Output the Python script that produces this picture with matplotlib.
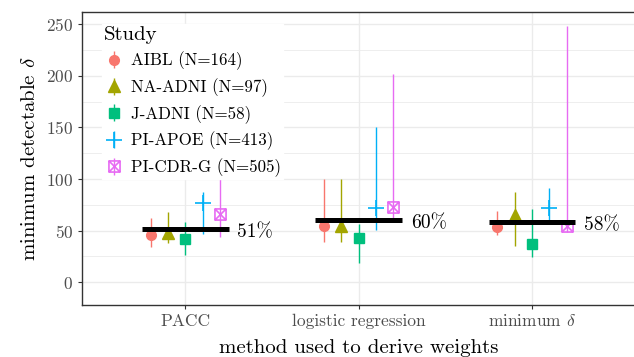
import matplotlib
matplotlib.use('Agg')
import matplotlib.pyplot as plt
from matplotlib.path import Path
from matplotlib.ticker import MultipleLocator

plt.rcParams['font.family'] = 'serif'
plt.rcParams['font.serif'] = ['cmr10', 'DejaVu Serif']
plt.rcParams['mathtext.fontset'] = 'cm'
plt.rcParams['axes.formatter.use_mathtext'] = True

# data
methods = ['PACC', 'logistic regression', r'minimum $\delta$']
studies = ['AIBL (N=164)', 'NA-ADNI (N=97)', 'J-ADNI (N=58)', 'PI-APOE (N=413)', 'PI-CDR-G (N=505)']

est = [
    [45.8, 54.6, 53.3],   # AIBL
    [48.0, 54.6, 65.2],   # NA-ADNI
    [41.7, 42.6, 36.8],   # J-ADNI
    [77.1, 72.3, 72.3],   # PI-APOE
    [66.2, 73.3, 54.6],   # PI-CDR-G
]
lower = [
    [34.5, 39.3, 45.8],
    [37.8, 39.3, 35.2],
    [26.5, 18.4, 24.2],
    [46.8, 50.7, 60.4],
    [44.2, 62.3, 49.0],
]
upper = [
    [62.0, 99.8, 69.1],
    [68.4, 100.0, 87.8],
    [58.7, 56.5, 70.7],
    [87.8, 150.8, 91.1],
    [100.0, 201.8, 248.6],
]
pooled = [51.6, 60.4, 58.1]
pooled_labels = ['51%', '60%', '58%']

colors = ['#F8766D', '#A3A500', '#00BF7D', '#00B0F6', '#E76BF3']

# square with an x inside (ggplot shape 7)
boxx = Path([(-1, -1), (1, -1), (1, 1), (-1, 1), (-1, -1),
             (-1, -1), (1, 1), (-1, 1), (1, -1)],
            [Path.MOVETO, Path.LINETO, Path.LINETO, Path.LINETO, Path.CLOSEPOLY,
             Path.MOVETO, Path.LINETO, Path.MOVETO, Path.LINETO])
markers = ['o', '^', 's', '+', boxx]
msizes = [7, 9, 7.5, 11, 8]
filled = [True, True, True, False, False]

fig = plt.figure(figsize=(6.34, 3.57), dpi=100)
ax = fig.add_axes([81.5 / 634, 1 - 305 / 357, (636 - 81.5) / 634, (305 - 11.7) / 357])

xpos = [1, 2, 3]
offsets = [-0.2, -0.1, 0.0, 0.1, 0.2]
handles = []
for i in range(len(studies)):
    xs = [x + offsets[i] for x in xpos]
    yerr = [[e - l for e, l in zip(est[i], lower[i])],
            [u - e for e, u in zip(est[i], upper[i])]]
    h = ax.errorbar(xs, est[i], yerr=yerr, marker=markers[i], linestyle='none',
                    color=colors[i], ms=msizes[i], elinewidth=1.0, capsize=0,
                    mfc=colors[i] if filled[i] else 'none', mec=colors[i],
                    mew=1 if filled[i] else 1.2, zorder=3, label=studies[i])
    handles.append(h)

for x, p, lab in zip(xpos, pooled, pooled_labels):
    ax.plot([x - 0.25, x + 0.25], [p, p], color='black', lw=3.6, solid_capstyle='butt', zorder=4)
    ax.annotate(lab, (x + 0.3, p), xytext=(0, -2.5), textcoords='offset points',
                ha='left', va='center', fontsize=14, color='black', zorder=5)

ax.set_xlim(0.4, 3.6)
ax.set_ylim(-22, 262)
ax.set_xticks(xpos)
ax.set_xticklabels(methods)
ax.yaxis.set_major_locator(MultipleLocator(50))
ax.yaxis.set_minor_locator(MultipleLocator(25))
ax.grid(which='major', color='#EBEBEB', lw=1.0, zorder=0)
ax.grid(which='minor', axis='y', color='#EBEBEB', lw=0.6, zorder=0)
ax.set_axisbelow(True)
for s in ax.spines.values():
    s.set_color('#333333')
    s.set_linewidth(1.0)
ax.tick_params(which='major', length=3, color='#333333', labelcolor='#4D4D4D', labelsize=12.5, pad=3)
ax.tick_params(which='minor', length=0)

ax.set_xlabel('method used to derive weights', fontsize=15, labelpad=7)
ax.set_ylabel(r'minimum detectable $\delta$', fontsize=15, labelpad=5)

leg = ax.legend(handles=handles, labels=studies, title='Study', loc='upper left',
                bbox_to_anchor=(0.037, 0.958), frameon=True, fancybox=False,
                framealpha=1, edgecolor='white', fontsize=12.2, title_fontsize=15,
                alignment='left', labelspacing=0.47, handlelength=1.2,
                handletextpad=0.4, borderpad=0.1, borderaxespad=0)
leg.set_zorder(6)

fig.savefig('out.png', dpi=100)
